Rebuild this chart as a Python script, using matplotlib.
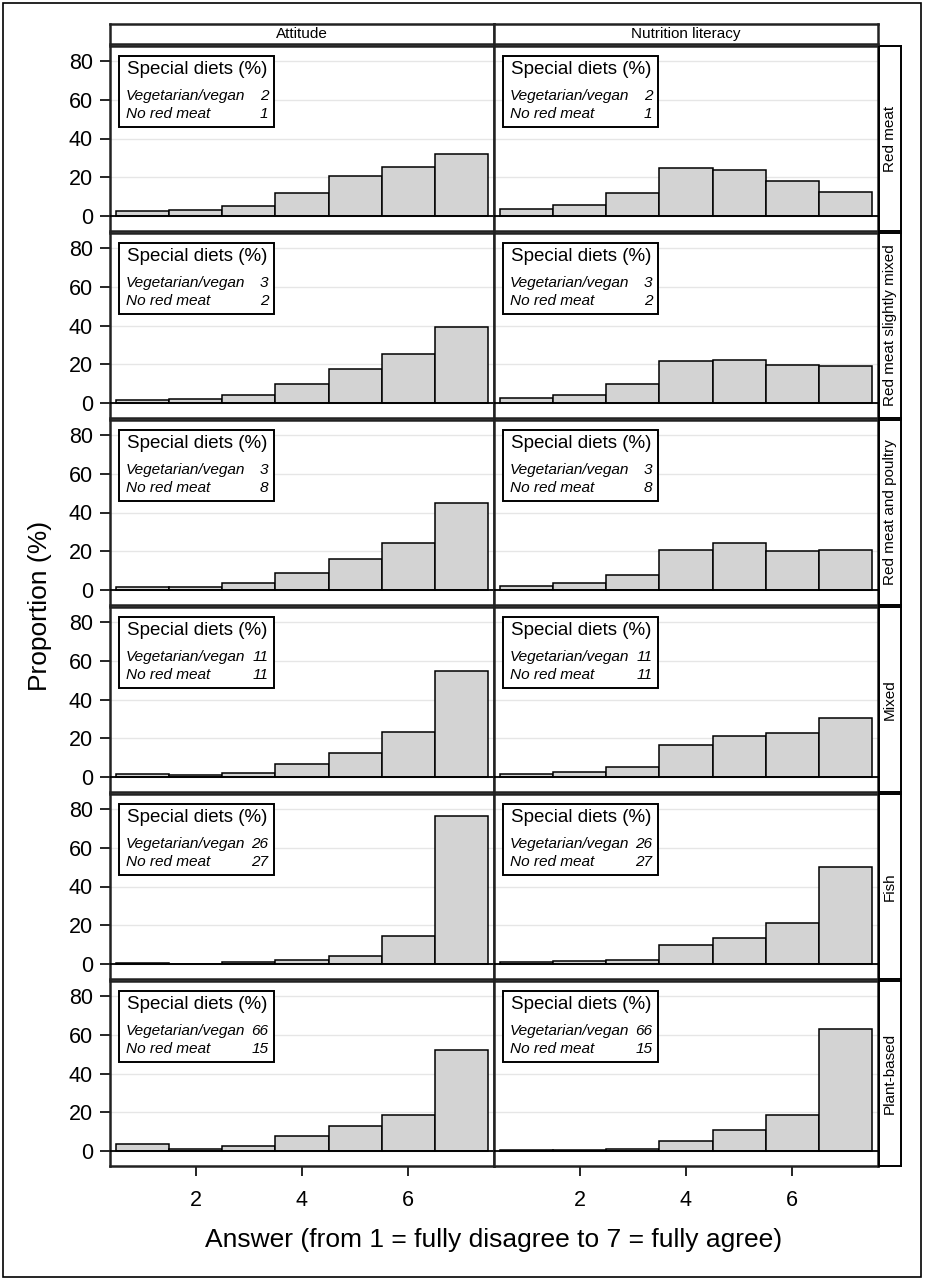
import matplotlib.pyplot as plt
from matplotlib.patches import Rectangle

plt.rcParams['font.family'] = ['Liberation Sans', 'DejaVu Sans']

# Data
answers = [1, 2, 3, 4, 5, 6, 7]
diet_groups = ['Red meat', 'Red meat slightly mixed', 'Red meat and poultry',
               'Mixed', 'Fish', 'Plant-based']
columns = ['Attitude', 'Nutrition literacy']

attitude = [
    [2.6, 3.1, 5.4, 11.9, 20.6, 25.3, 31.8],
    [1.5, 1.9, 4.4, 9.9, 17.8, 25.1, 39.3],
    [1.4, 1.4, 3.4, 8.9, 15.9, 24.3, 45.0],
    [1.4, 1.0, 2.2, 6.7, 12.3, 23.2, 54.5],
    [0.5, 0.2, 1.0, 2.2, 4.3, 14.4, 76.6],
    [3.6, 1.0, 2.4, 8.0, 13.0, 18.5, 52.3],
]
literacy = [
    [3.4, 5.8, 11.8, 24.7, 23.7, 18.1, 12.6],
    [2.7, 4.4, 9.6, 21.7, 22.2, 19.8, 19.0],
    [2.1, 3.6, 7.9, 20.9, 24.3, 20.0, 20.9],
    [1.7, 2.7, 5.3, 16.4, 21.2, 22.7, 30.6],
    [0.9, 1.5, 1.9, 9.7, 13.7, 21.0, 50.1],
    [0.4, 0.4, 1.2, 5.0, 11.1, 18.5, 63.2],
]
vegetarian = [2, 3, 3, 11, 26, 66]
no_red_meat = [1, 2, 8, 11, 27, 15]

W, H = 925, 1280
fig = plt.figure(figsize=(W / 100, H / 100), dpi=100)


def px_axes(x0, y0, x1, y1):
    return fig.add_axes([x0 / W, 1 - y1 / H, (x1 - x0) / W, (y1 - y0) / H])


col_x = [(110, 494), (494, 878)]
row_top, row_h, row_gap = 46, 185, 2
spine_lw = 1.8

for i, group in enumerate(diet_groups):
    y0 = row_top + i * (row_h + row_gap)
    y1 = y0 + row_h
    for j, data in enumerate([attitude, literacy]):
        ax = px_axes(col_x[j][0], y0, col_x[j][1], y1)
        ax.bar(answers, data[i], width=1, color='#d3d3d3', edgecolor='black',
               linewidth=1.1, zorder=3)
        ax.axhline(0, color='black', lw=1.3, zorder=4)
        ax.set_xlim(0.38, 7.62)
        ax.set_ylim(-7.7, 87.7)
        ax.set_yticks([0, 20, 40, 60, 80])
        ax.set_xticks([2, 4, 6])
        ax.yaxis.grid(True, color='#e6e6e6', lw=1)
        ax.set_axisbelow(True)
        for s in ax.spines.values():
            s.set_linewidth(spine_lw)
            s.set_color('#222222')
        if j == 0:
            ax.tick_params(axis='y', length=7.2, width=1.2, labelsize=15.5, pad=5)
        else:
            ax.tick_params(axis='y', length=0, labelleft=False)
        if i == len(diet_groups) - 1:
            ax.tick_params(axis='x', length=7.2, width=1.2, labelsize=15.5, pad=10)
        else:
            ax.tick_params(axis='x', length=0, labelbottom=False)

        # inset "Special diets" box
        ax.add_patch(Rectangle((0.0234, 0.562), 0.4036, 0.384, transform=ax.transAxes,
                               facecolor='white', edgecolor='black', lw=1.4, zorder=5))
        ax.text(0.2266, 0.849, 'Special diets (%)', transform=ax.transAxes,
                ha='center', va='baseline', fontsize=13.5, zorder=6)
        ax.text(0.0417, 0.708, 'Vegetarian/vegan', transform=ax.transAxes,
                ha='left', va='baseline', fontsize=11.1, style='italic', zorder=6)
        ax.text(0.413, 0.708, str(vegetarian[i]), transform=ax.transAxes,
                ha='right', va='baseline', fontsize=11.1, style='italic', zorder=6)
        ax.text(0.0417, 0.611, 'No red meat', transform=ax.transAxes,
                ha='left', va='baseline', fontsize=11.1, style='italic', zorder=6)
        ax.text(0.413, 0.611, str(no_red_meat[i]), transform=ax.transAxes,
                ha='right', va='baseline', fontsize=11.1, style='italic', zorder=6)

    # row strip on the right
    sx = px_axes(879, y0, 901, y1)
    sx.set_xticks([])
    sx.set_yticks([])
    for s in sx.spines.values():
        s.set_linewidth(1.4)
    sx.text(0.5, 0.5, group, rotation=90, ha='center', va='center', fontsize=11,
            transform=sx.transAxes)

# column strips on top
for j, name in enumerate(columns):
    cx = px_axes(col_x[j][0], 24, col_x[j][1], 44)
    cx.set_xticks([])
    cx.set_yticks([])
    for s in cx.spines.values():
        s.set_linewidth(spine_lw)
        s.set_color('#222222')
    cx.text(0.5, 0.5, name, ha='center', va='center', fontsize=11,
            transform=cx.transAxes)

fig.text(40 / W, 1 - 606 / H, 'Proportion (%)', rotation=90, ha='center',
         va='center', fontsize=19)
fig.text(494 / W, 1 - 1240 / H, 'Answer (from 1 = fully disagree to 7 = fully agree)',
         ha='center', va='center', fontsize=19)

# outer frame
fig.patches.append(Rectangle((3 / W, 3 / H), 918 / W, 1274 / H, transform=fig.transFigure,
                             fill=False, edgecolor='black', lw=1.2))

fig.savefig('out.png', dpi=100)
